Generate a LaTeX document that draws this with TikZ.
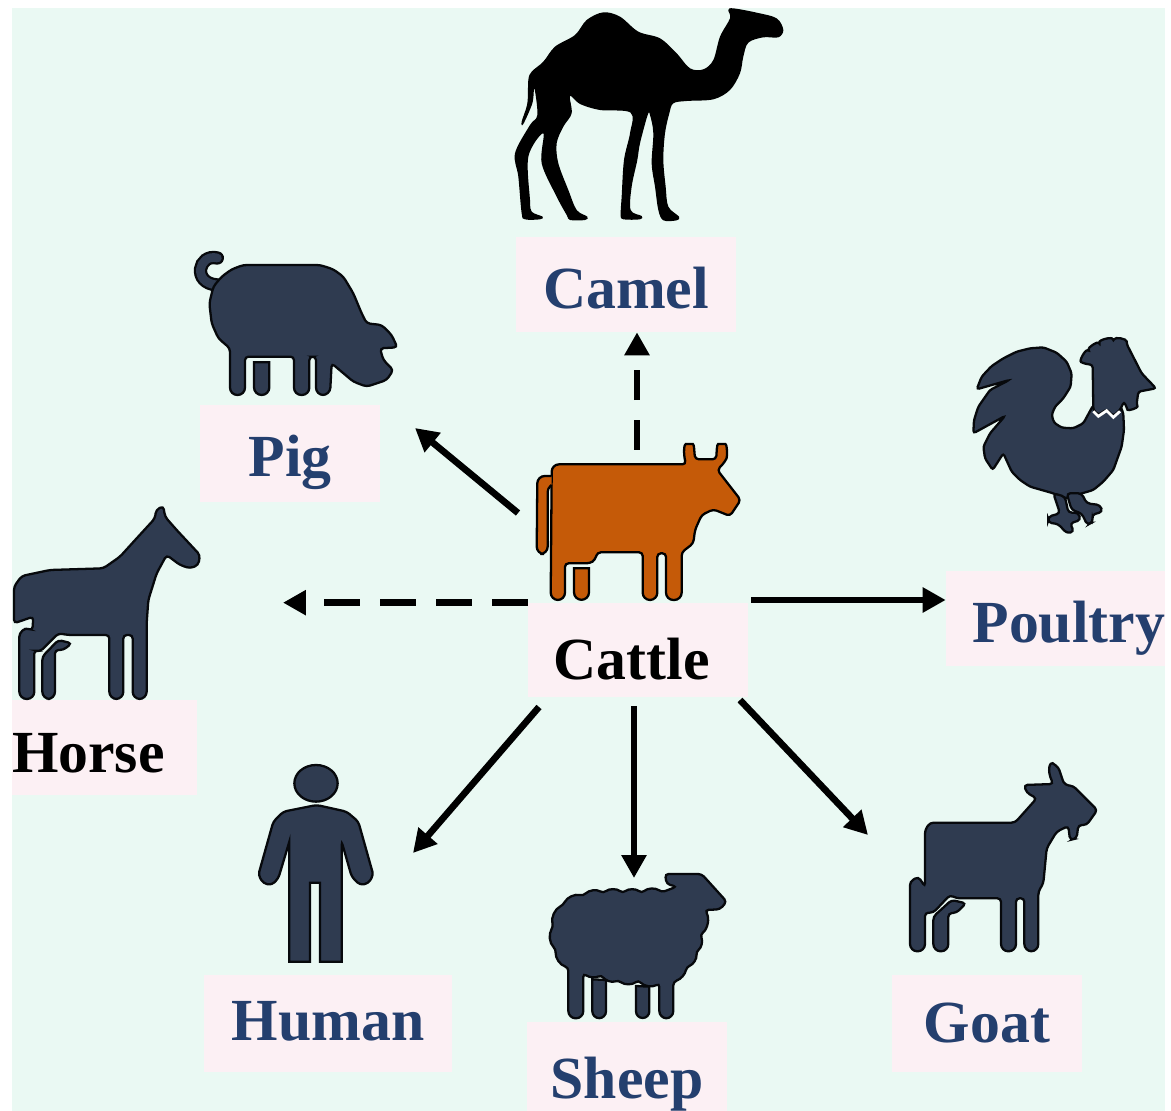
\documentclass[tikz,border=0pt]{standalone}
\usepackage{fontspec}
\setmainfont{Liberation Serif}
\usetikzlibrary{arrows.meta}
\definecolor{mint}{HTML}{EAF9F3}
\definecolor{blush}{HTML}{FCF0F4}
\definecolor{navy}{HTML}{243F6E}
\definecolor{slate}{HTML}{2F3B50}
\definecolor{rust}{HTML}{C55A08}

\begin{document}
\begin{tikzpicture}[
    x=0.02cm, y=-0.02cm,
    label/.style={anchor=base, fill=blush, text=navy, inner xsep=0pt, inner ysep=0pt, font=\fontsize{34}{40}\selectfont\bfseries, text height=1.44cm, text depth=.46cm},
    icon/.style={fill=slate, draw=black!85!slate, line width=1.3pt, rounded corners=2pt},
    foot/.style={rounded corners=4.2pt},
    joint/.style={rounded corners=2pt},
    arrow/.style={-{Triangle[length=.46cm,width=.48cm]}, line width=3.8pt, draw=black},
    dashed_arrow/.style={arrow, dash pattern=on .72cm off .4cm},
    short_dashed/.style={arrow, dash pattern=on .6cm off .4cm}
]
\useasboundingbox (0,0) rectangle (1171,1111);
\fill[white] (0,0) rectangle (1171,1111);
\fill[mint] (12,8) rectangle (1165,1111);

% Labels
\node[label, minimum width=4.4cm] (camel) at (626,309) {Camel};
\node[label, minimum width=3.6cm, text depth=.5cm] (pig) at (290,477) {Pig};
\node[label, minimum width=4.4cm, text=black, text height=1.54cm, text depth=.34cm] (cattle) at (638,680) {\hspace*{-.25cm}Cattle};
\node[label, text width=4.38cm, align=right] (poultry) at (1055.5,643) {Poultry};
\node[label, text=black, text width=3.7cm, align=left] (horse) at (104.5,772) {Horse};
\node[label, minimum width=4.96cm, text height=1.3cm, text depth=.64cm] (human) at (328,1040) {Human};
\node[label, minimum width=4cm, text height=1.52cm, text depth=.26cm] (sheep) at (627,1098) {Sheep};
\node[label, minimum width=3.8cm, text height=1.34cm, text depth=.6cm] (goat) at (987,1042) {Goat};

% Camel
\begin{scope}[shift={(500,0)}, scale=1/3]
\fill[black] plot[smooth cycle, tension=.55] coordinates {(685,30) (700,25) (770,38) (830,55) (850,90) (835,112) (790,112) (745,128) (730,170) (720,220) (690,270) (640,298) (560,303) (520,310) (508,340) (495,400) (490,480) (497,560) (505,620) (537,650) (530,661) (490,661) (475,630) (465,560) (455,490) (460,400) (450,345) (443,345) (420,430) (412,480) (395,560) (392,630) (425,648) (420,658) (370,658) (362,645) (365,590) (372,480) (390,400) (392,338) (300,330) (240,312) (210,288) (215,340) (190,380) (170,430) (175,490) (205,570) (230,630) (262,650) (255,660) (210,660) (200,645) (170,590) (125,490) (130,400) (85,470) (90,600) (95,635) (128,650) (120,658) (75,658) (65,640) (55,530) (45,460) (90,375) (112,345) (103,265) (97,310) (70,372) (65,365) (82,310) (85,240) (95,215) (130,185) (165,140) (225,105) (260,60) (310,37) (360,50) (415,95) (480,115) (530,160) (570,205) (610,208) (640,180) (660,110) (690,55)};
\end{scope}

% Cattle
\begin{scope}[shift={(510,420)}, scale=1/3]
\tikzset{icon/.append style={fill=rust, draw=black}}
\draw[icon] (125,165) [foot] -- (125,133) [joint] -- (528,133) .. controls (520,100) and (522,72) .. (538,72) .. controls (553,72) and (553,100) .. (556,118) -- (618,118) .. controls (620,100) and (620,72) .. (635,72) .. controls (652,72) and (652,110) .. (645,125) -- (622,150) -- (692,240) -- (660,288) -- (610,268) -- (575,285) -- (555,330) -- (550,370) -- (515,397) [foot] -- (515,540) -- (468,540) [joint] -- (468,400) -- (442,400) [foot] -- (442,540) -- (398,540) [joint] -- (398,397) -- (262,397) -- (255,420) -- (240,430) -- (165,430) [foot] -- (165,540) -- (122,540) [joint] -- cycle;
\draw[icon] (125,168) [foot] -- (82,168) -- (80,402) -- (113,402) [joint] -- (113,205) -- (125,195);
\draw[icon, sharp corners] (192,445) -- (237,445) -- (237,517) arc[start angle=0, end angle=180, radius=22.5] -- cycle;
\end{scope}

% Pig
\begin{scope}[shift={(180,240)}, scale=1/3]
\draw[draw=black!85!slate, line width=1.3pt, double=slate, double distance=5pt, line cap=round] (112,54) .. controls (55,40) and (35,130) .. (112,135);
\draw[icon] (125,110) -- (155,88) -- (190,75) -- (420,75) -- (460,88) -- (490,110) -- (520,160) -- (545,220) -- (560,250) -- (605,255) -- (635,285) -- (652,322) -- (600,325) -- (610,360) -- (640,390) -- (620,420) -- (560,440) -- (520,425) -- (455,370) [foot] -- (450,465) -- (408,465) [joint] -- (408,350) -- (388,350) [foot] -- (388,465) -- (342,465) [joint] -- (342,350) -- (195,350) [foot] -- (195,465) -- (150,465) [joint] -- (150,325) -- (115,295) -- (95,250) -- (88,190) -- (100,140) -- cycle;
\draw[icon, sharp corners] (222,367) -- (268,367) -- (268,442) arc[start angle=0, end angle=180, radius=23] -- cycle;
\end{scope}

% Poultry
\begin{scope}[shift={(950,330)}, scale=1/3]
\draw[icon, rounded corners=1.5pt] (80,178) -- (95,140) -- (125,108) -- (160,85) -- (200,65) -- (240,55) -- (280,52) -- (320,68) -- (350,95) -- (365,130) -- (362,170) -- (340,205) -- (315,230) -- (305,255) -- (312,278) -- (335,293) -- (370,295) -- (400,280) -- (430,225) -- (510,225) -- (520,250) -- (522,300) -- (515,350) -- (490,420) -- (460,455) -- (430,480) -- (345,505) -- (310,490) -- (240,470) -- (210,450) -- (185,425) -- (160,370) -- (128,420) -- (105,385) -- (100,350) -- (120,310) -- (165,258) -- (70,310) -- (72,270) -- (85,230) -- (120,180) -- (178,150) -- cycle;
\draw[icon, rounded corners=1.5pt] (428,105) -- (400,100) to[bend left=90] (420,65) to[bend left=90] (450,45) to[bend left=90] (490,35) to[bend left=80] (530,42) -- (575,130) -- (618,175) -- (565,185) -- (560,222) to[bend left=90] (530,232) -- (522,215) -- (510,240) -- (490,258) -- (470,238) -- (445,255) -- (430,240) -- cycle;
\draw[white, line width=1.6pt] (430,244) -- (445,259) -- (470,242) -- (490,262) -- (510,244);
\draw[icon] (395,490) -- (410,520) -- (450,525) -- (458,545) -- (425,555) -- (430,575) -- (412,585) -- (395,550) -- (365,540) -- (350,490) -- cycle;
\draw[icon] (310,490) -- (330,550) -- (295,560) -- (295,578) -- (325,582) -- (350,610) -- (372,605) -- (360,580) -- (392,570) -- (385,548) -- (355,548) -- (345,500) -- cycle;
\end{scope}

% Horse
\begin{scope}[shift={(0,500)}, scale=1/3]
\draw[icon] (42,260) -- (65,228) -- (150,210) -- (310,205) -- (360,170) -- (410,115) -- (465,55) -- (468,30) -- (490,18) -- (495,50) -- (530,90) -- (600,165) -- (595,195) -- (570,205) -- (540,195) -- (500,165) -- (470,220) -- (445,300) -- (440,370) [foot] -- (440,597) -- (398,597) [joint] -- (398,405) -- (370,405) [foot] -- (370,597) -- (328,597) [joint] -- (328,405) -- (205,405) -- (175,400) -- (120,455) -- (103,450) [foot] -- (103,597) -- (58,597) [joint] -- (58,400) -- (78,383) -- (97,392) -- (100,350) -- (42,370) -- cycle;
\draw[icon] (127,597) -- (127,470) -- (175,420) -- (215,430) -- (190,450) -- (165,450) [foot] -- (165,597) -- cycle;
\end{scope}

% Human
\begin{scope}[shift={(240,760)}, scale=1/3]
\draw[icon] (228,70) ellipse [x radius=65, y radius=55];
\draw[icon] (100,185) -- (130,155) -- (230,135) -- (320,155) -- (355,185) -- (400,345) -- (385,370) -- (360,375) -- (335,350) -- (305,245) [sharp corners] -- (305,605) -- (240,605) -- (240,368) -- (210,368) -- (210,605) -- (148,605) -- (148,245) [joint] -- (115,355) -- (95,375) -- (70,370) -- (55,345) -- cycle;
\end{scope}

% Sheep
\begin{scope}[shift={(530,860)}, scale=1/3]
\draw[icon] (405,42) -- (515,42) -- (590,125) -- (570,148) -- (525,150)
  to[bend left=40] (510,225) to[bend left=40] (498,275) to[bend left=40] (470,320) to[bend left=30] (430,365)
  [foot] -- (430,475) -- (388,475) [joint] -- (388,370)
  to[bend left=40] (325,360) to[bend left=40] (265,360) to[bend left=40] (215,345) to[bend left=30] (160,340)
  [foot] -- (160,475) -- (115,475) [joint] -- (115,322)
  to[bend left=40] (78,268) to[bend left=40] (70,200) to[bend left=40] (100,135) to[bend left=40] (160,108) to[bend left=40] (220,100) to[bend left=40] (278,100) to[bend left=40] (335,100) to[bend left=40] (395,97)
  -- (440,80) -- (410,72) -- cycle;
\draw[icon, sharp corners] (187,358) -- (228,360) -- (228,454) arc[start angle=0, end angle=180, radius=20.5] -- cycle;
\draw[icon, sharp corners] (318,378) -- (358,380) -- (358,454) arc[start angle=0, end angle=180, radius=20] -- cycle;
\end{scope}

% Goat
\begin{scope}[shift={(890,760)}, scale=1/3]
\draw[icon] (105,210) -- (120,188) -- (375,188) -- (440,115) -- (410,98) -- (402,75) -- (490,72) .. controls (470,30) and (480,5) .. (497,15) .. controls (510,30) and (515,55) .. (525,75) -- (550,78) -- (622,150) -- (590,195) -- (565,195) -- (560,235) -- (540,240) -- (535,198) -- (500,215) -- (470,265) -- (460,370) -- (445,395) [foot] -- (445,574) -- (403,574) [joint] -- (403,415) -- (378,415) [foot] -- (378,574) -- (333,574) [joint] -- (333,415) -- (200,415) -- (180,405) -- (130,458) -- (105,458) [foot] -- (105,574) -- (60,574) [joint] -- (60,365) -- (85,350) -- (105,380) -- cycle;
\draw[icon] (130,574) -- (130,470) -- (185,420) -- (228,430) -- (200,458) -- (175,460) [foot] -- (175,574) -- cycle;
\end{scope}

% Connectors
\coordinate (to_camel) at (637,450);
\coordinate (to_pig) at (518,513);
\coordinate (pig_tip) at (415,428);
\coordinate (horse_tip) at (283,604);
\coordinate (to_poultry) at (751,600);
\coordinate (to_human) at (539,707);
\coordinate (human_tip) at (413,853);
\coordinate (to_sheep) at (634,706);
\coordinate (sheep_tip) at (634,878);
\coordinate (to_goat) at (740,700);
\coordinate (goat_tip) at (868,835);

\draw[short_dashed] (to_camel) -- (to_camel |- camel.south);
\draw[arrow] (to_pig) -- (pig_tip);
\draw[dashed_arrow] (cattle.north west) -- (horse_tip |- cattle.north west);
\draw[arrow] (to_poultry) -- (to_poultry -| poultry.west);
\draw[arrow] (to_human) -- (human_tip);
\draw[arrow] (to_sheep) -- (sheep_tip);
\draw[arrow] (to_goat) -- (goat_tip);

\end{tikzpicture}
\end{document}
